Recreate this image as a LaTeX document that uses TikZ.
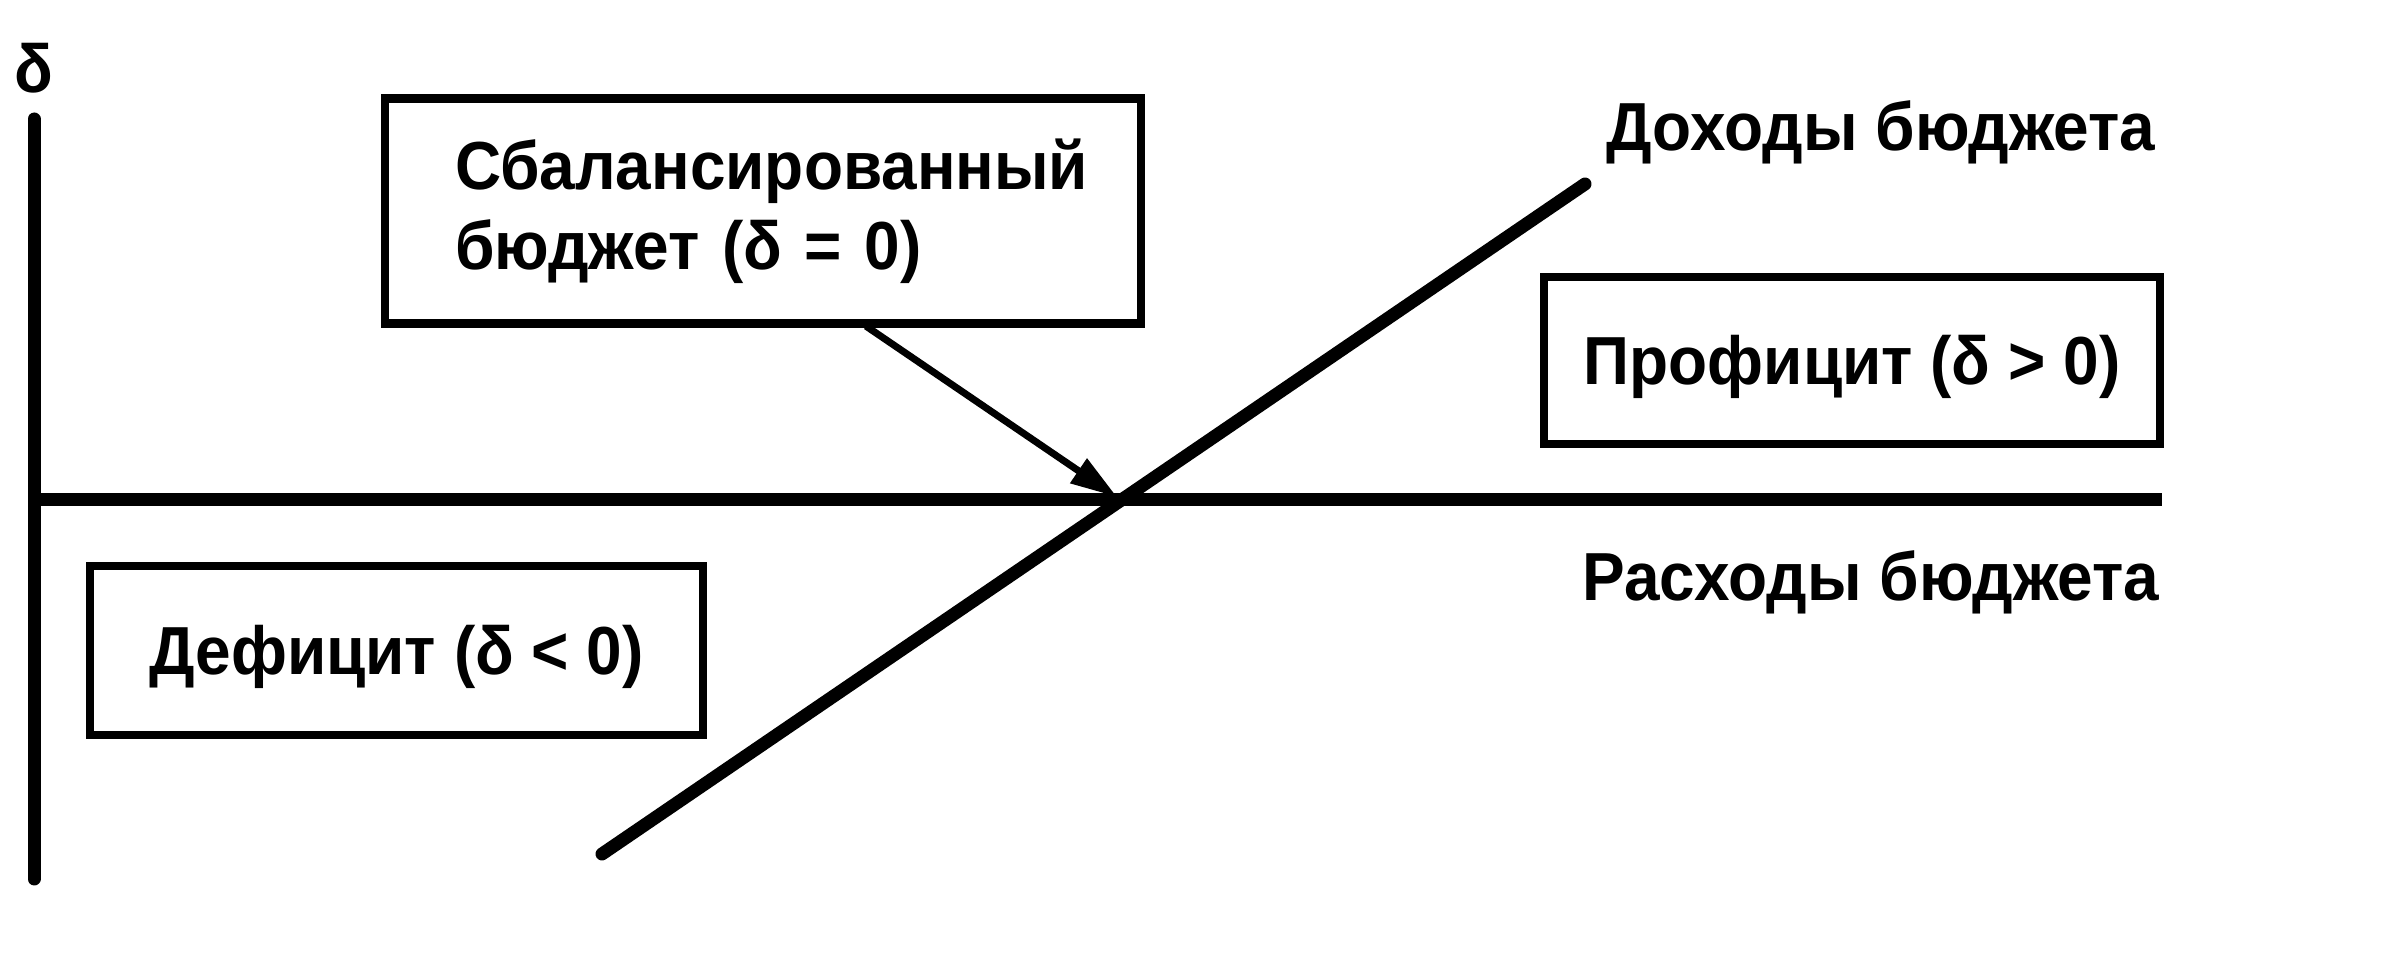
\documentclass[tikz,border=0pt]{standalone}
\usepackage{fontspec}
\newfontfamily\lab[FakeStretch=0.94]{Liberation Sans}
\usetikzlibrary{arrows.meta}
\begin{document}
\begin{tikzpicture}[x=0.3pt,y=-0.3pt,
  txt/.style={font=\lab\bfseries\fontsize{20.4pt}{23.9pt}\selectfont, inner sep=0pt},
  box/.style={draw, line width=2.5pt, txt},
  onebox/.style={box, text height=14.6pt, text depth=0pt},
  axisv/.style={line width=3.9pt, line cap=round},
  axish/.style={line width=3.9pt},
  budget/.style={line width=3.9pt, line cap=round},
  pointer/.style={line width=2.1pt, -{Triangle[length=14pt,width=8.5pt]}}
 ]
\useasboundingbox (0,0) rectangle (2385,962);
% coordinates
\coordinate (Ytop) at (34,119);
\coordinate (Ybot) at (34,879);
\coordinate (O) at (34,500);
\coordinate (Xend) at (2162,500);
\coordinate (L1) at (602,854);
\coordinate (L2) at (1585,184);
\coordinate (E) at (1117,497);
% axes and lines
\draw[axisv] (Ytop) -- (Ybot);
\draw[axish] (O) -- (Xend);
\draw[budget] (L1) -- (L2);
% labels
\node[txt, anchor=base] (delta) at (34,93) {δ};
\node[txt, anchor=base east] (inc) at (2156,151) {Доходы бюджета};
\node[txt, anchor=base east] (exp) at (2160,601) {Расходы бюджета};
% boxes
\node[box, minimum width=226.8pt, minimum height=67.5pt, text width=184.8pt, align=left] (bal) at (763,211) {Сбалансированный\\бюджет (δ = 0)};
\node[onebox, minimum width=184.8pt, minimum height=50.1pt] (pro) at (1852,360.5) {Профицит (δ > 0)};
\node[onebox, minimum width=183.9pt, minimum height=50.7pt] (def) at (396.5,650.5) {Дефицит (δ < 0)};
% arrow
\draw[pointer] ([xshift=30.9pt,yshift=0.45pt]bal.south) -- (E);
\end{tikzpicture}
\end{document}
